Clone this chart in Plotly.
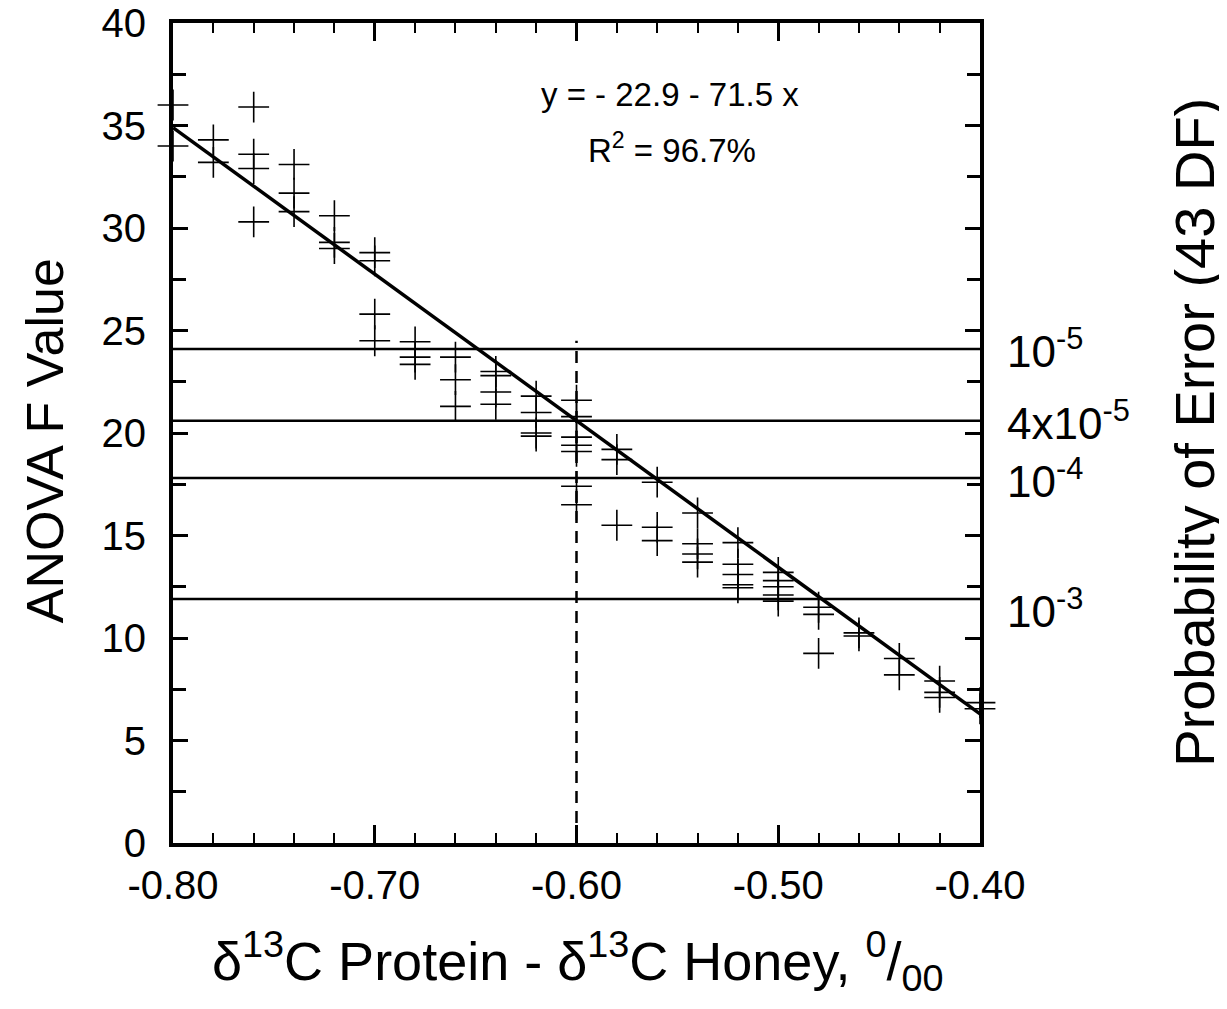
import plotly.graph_objects as go

# ---- data ----
x_columns = [-0.80, -0.78, -0.76, -0.74, -0.72, -0.70, -0.68, -0.66, -0.64, -0.62,
             -0.60, -0.58, -0.56, -0.54, -0.52, -0.50, -0.48, -0.46, -0.44, -0.42, -0.40]
f_values = [
    [36.0, 34.0],
    [34.3, 33.2],
    [35.9, 33.6, 32.9, 30.3],
    [33.1, 31.7, 30.8],
    [30.6, 29.3, 29.0],
    [28.8, 28.4, 25.8, 24.5],
    [24.45, 23.7, 23.35],
    [23.7, 22.6, 21.3],
    [23.0, 22.8, 22.0, 21.4],
    [21.8, 21.0, 20.0, 19.85],
    [21.6, 20.8, 19.8, 19.4, 19.1, 17.4, 16.5],
    [19.2, 18.7, 15.5],
    [17.6, 15.4, 14.75],
    [16.1, 14.6, 14.1, 13.7],
    [14.65, 13.6, 13.1, 12.6, 12.45],
    [13.2, 12.8, 12.5, 12.1, 11.8],
    [11.5, 11.15, 9.25],
    [10.25, 10.1],
    [9.0, 8.2],
    [7.9, 7.35, 7.1],
    [6.85, 6.55],
]

fit_x = [-0.80, -0.395]
fit_y = [34.9, 5.94]

cutoff_x = [-0.60, -0.60]
cutoff_y = [0.0, 24.5]

prob_levels = [24.1, 20.6, 17.8, 11.9]
prob_labels = ["10<sup>-5</sup>", "4x10<sup>-5</sup>", "10<sup>-4</sup>", "10<sup>-3</sup>"]
prob_label_shift = [0, 0, 0, -9]

x_tickvals = [-0.80, -0.70, -0.60, -0.50, -0.40]
x_ticktext = ["-0.80", "-0.70", "-0.60", "-0.50", "-0.40"]
y_tickvals = [0, 5, 10, 15, 20, 25, 30, 35, 40]

# ---- build ----
px_, py_ = [], []
for xv, col in zip(x_columns, f_values):
    for v in col:
        px_.append(xv)
        py_.append(v)

FONT = "Liberation Sans, Arial, Helvetica, sans-serif"
fig = go.Figure()

for lvl in prob_levels:
    fig.add_trace(go.Scatter(x=[-0.80, -0.40], y=[lvl, lvl], mode="lines",
                             line=dict(color="black", width=2.5), hoverinfo="skip"))

fig.add_trace(go.Scatter(x=cutoff_x, y=cutoff_y, mode="lines",
                         line=dict(color="black", width=2.5, dash="12px,8px"), hoverinfo="skip"))

fig.add_trace(go.Scatter(x=fit_x, y=fit_y, mode="lines",
                         line=dict(color="black", width=3.5), hoverinfo="skip"))

fig.add_trace(go.Scatter(x=px_, y=py_, mode="markers", cliponaxis=False,
                         marker=dict(symbol="cross-thin", size=22, color="black",
                                     line=dict(color="black", width=1.6))))

annotations = [
    dict(x=-0.5537, y=36.5, xref="x", yref="y", text="y = - 22.9 - 71.5 x",
         showarrow=False, font=dict(size=33, color="black", family=FONT)),
    dict(x=-0.5527, y=33.9, xref="x", yref="y", text="R<sup>2</sup> = 96.7%",
         showarrow=False, font=dict(size=33, color="black", family=FONT)),
    dict(x=0.502, y=-0.144, xref="paper", yref="paper", xanchor="center", yanchor="middle",
         text="δ<sup>13</sup>C Protein - δ<sup>13</sup>C Honey, <sup>0</sup>/<sub>00</sub>",
         showarrow=False, font=dict(size=54, color="black", family=FONT)),
    dict(x=-0.1586, y=0.490, xref="paper", yref="paper", textangle=-90,
         xanchor="center", yanchor="middle",
         text="ANOVA F Value", showarrow=False,
         font=dict(size=52, color="black", family=FONT)),
    dict(x=1.266, y=0.501, xref="paper", yref="paper", textangle=-90,
         xanchor="center", yanchor="middle",
         text="Probability of Error (43 DF)", showarrow=False,
         font=dict(size=56, color="black", family=FONT)),
]
for lvl, lab, sh in zip(prob_levels, prob_labels, prob_label_shift):
    annotations.append(dict(x=1.031, y=lvl, xref="paper", yref="y", xanchor="left",
                            yanchor="middle", yshift=sh, text=lab, showarrow=False,
                            font=dict(size=44, color="black", family=FONT)))

fig.update_layout(
    width=1227, height=1009, autosize=False,
    margin=dict(l=165, r=255, t=15, b=174, autoexpand=False),
    paper_bgcolor="white", plot_bgcolor="white",
    showlegend=False,
    font=dict(family=FONT, color="black"),
    annotations=annotations,
    xaxis=dict(range=[-0.80, -0.40], tickvals=x_tickvals, ticktext=x_ticktext,
               ticks="inside", ticklen=18, tickwidth=2.5, tickcolor="black",
               showline=True, linewidth=4, linecolor="black", mirror="ticks",
               showgrid=False, zeroline=False, ticklabelstandoff=4, automargin=False,
               ticklabeloverflow="allow",
               tickfont=dict(size=40, family=FONT, color="black"),
               minor=dict(dtick=0.02, tick0=-0.80, ticks="inside", ticklen=10,
                          tickwidth=2, tickcolor="black", showgrid=False)),
    yaxis=dict(range=[0, 40], tickvals=y_tickvals,
               ticks="inside", ticklen=15, tickwidth=3, tickcolor="black",
               showline=True, linewidth=4, linecolor="black", mirror="ticks",
               showgrid=False, zeroline=False, ticklabelstandoff=15, automargin=False,
               ticklabeloverflow="allow",
               tickfont=dict(size=40, family=FONT, color="black"),
               minor=dict(dtick=2.5, tick0=0, ticks="inside", ticklen=13,
                          tickwidth=3, tickcolor="black", showgrid=False)),
)

fig.write_html("out.html")
